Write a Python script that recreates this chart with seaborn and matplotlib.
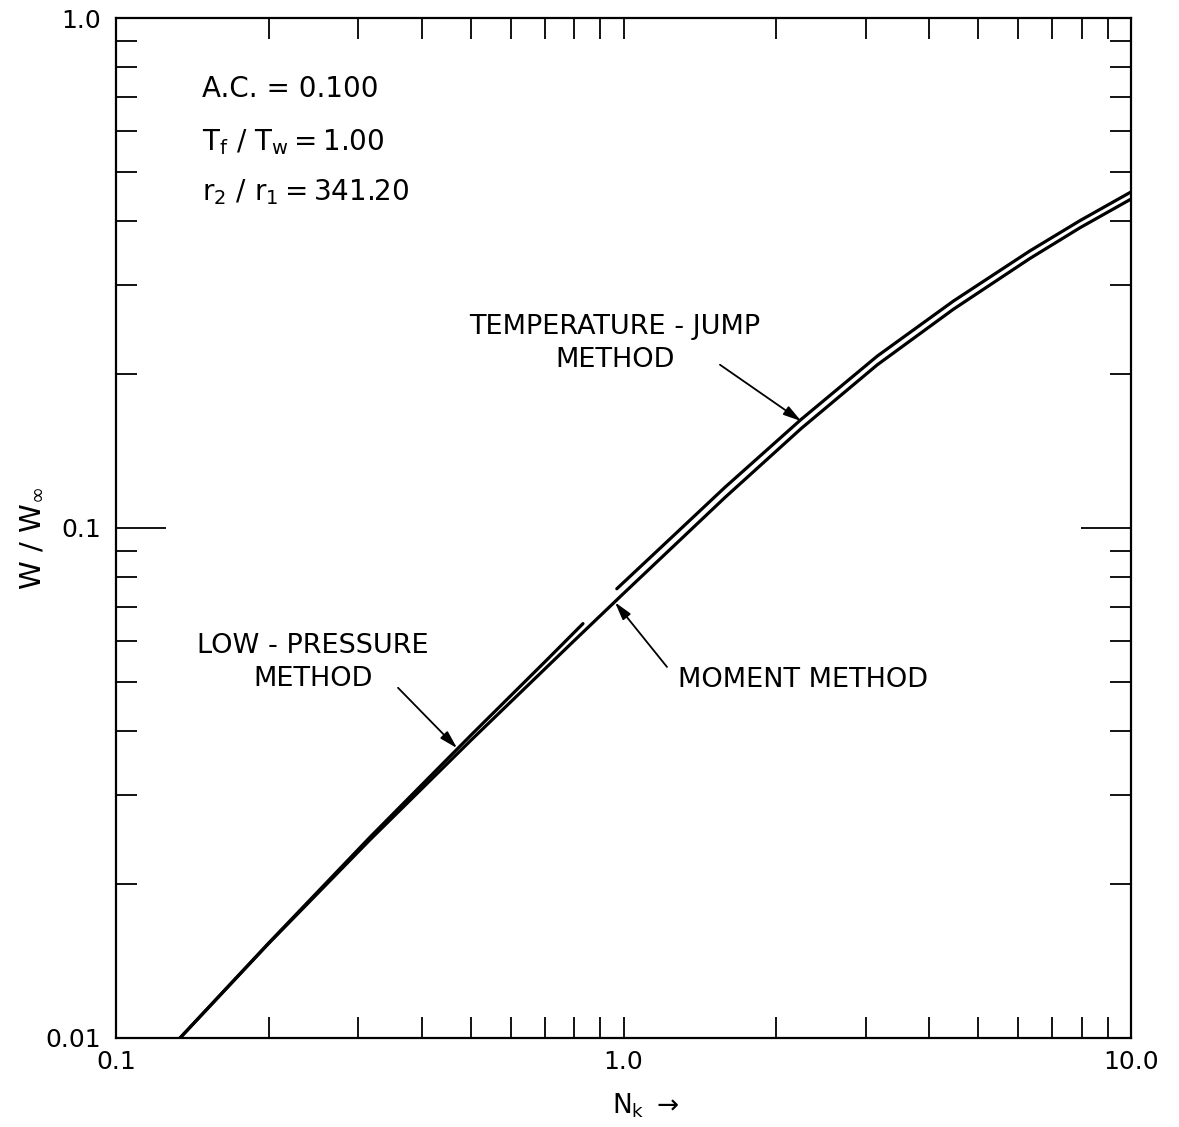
import numpy as np
import pandas as pd
import matplotlib
matplotlib.use("Agg")
import matplotlib.pyplot as plt
import seaborn as sns
from matplotlib.ticker import FixedLocator, FixedFormatter, LogLocator, NullFormatter

# ---------------- data ----------------
moment_nk = [0.1337, 0.1995, 0.3162, 0.5012, 0.7943, 1.0, 1.585, 2.239, 3.162, 4.467, 6.310, 7.943, 10.0]
moment_w = [0.0100, 0.01529, 0.02444, 0.0384, 0.05976, 0.0744, 0.1148, 0.1567, 0.2089, 0.2685, 0.3373, 0.3882, 0.4416]

tjump_nk = [0.97, 1.26, 1.585, 2.239, 3.162, 4.467, 6.310, 7.943, 10.0]
tjump_w = [0.0760, 0.0970, 0.1202, 0.1633, 0.2173, 0.2786, 0.3491, 0.4009, 0.4560]

lowp_nk = [0.1337, 0.1995, 0.3162, 0.5012, 0.7079, 0.832]
lowp_w = [0.0100, 0.01532, 0.02473, 0.0393, 0.05526, 0.06494]

x_ticks = [0.1, 1.0, 10.0]
x_tick_labels = ["0.1", "1.0", "10.0"]
y_ticks = [0.01, 0.1, 1.0]
y_tick_labels = ["0.01", "0.1", "1.0"]

param_lines = ["A.C. = 0.100",
               r"$\mathregular{T_f\ /\ T_w = 1.00}$",
               r"$\mathregular{r_2\ /\ r_1 = 341.20}$"]

# ---------------- figure ----------------
sns.set_theme(style="ticks")
plt.rcParams["font.family"] = ["DejaVu Sans"]
plt.rcParams["mathtext.fontset"] = "dejavusans"

fig = plt.figure(figsize=(11.79, 11.27), dpi=100)
ax = fig.add_axes([0.0984, 0.0790, 0.8609, 0.9050])

df_m = pd.DataFrame({"Nk": moment_nk, "W": moment_w})
df_t = pd.DataFrame({"Nk": tjump_nk, "W": tjump_w})
df_l = pd.DataFrame({"Nk": lowp_nk, "W": lowp_w})
for df in (df_m, df_t, df_l):
    sns.lineplot(data=df, x="Nk", y="W", ax=ax, color="black", linewidth=2.3,
                 estimator=None, sort=False)

ax.set_xscale("log")
ax.set_yscale("log")
ax.set_xlim(0.1, 10)
ax.set_ylim(0.01, 1.0)

ax.xaxis.set_major_locator(FixedLocator(x_ticks))
ax.xaxis.set_major_formatter(FixedFormatter(x_tick_labels))
ax.yaxis.set_major_locator(FixedLocator(y_ticks))
ax.yaxis.set_major_formatter(FixedFormatter(y_tick_labels))
ax.xaxis.set_minor_locator(LogLocator(base=10, subs=np.arange(2, 10)))
ax.yaxis.set_minor_locator(LogLocator(base=10, subs=np.arange(2, 10)))
ax.xaxis.set_minor_formatter(NullFormatter())
ax.yaxis.set_minor_formatter(NullFormatter())

ax.tick_params(which="both", direction="in", top=True, right=True,
               width=1.3, color="black", labelcolor="black", labelsize=18)
ax.tick_params(which="minor", length=15)
ax.tick_params(axis="x", which="major", length=15, pad=9)
ax.tick_params(axis="y", which="major", length=36, pad=11)
for s in ax.spines.values():
    s.set_linewidth(1.6)
    s.set_color("black")

ax.set_xlabel(r"$\mathregular{N_k}$ $\rightarrow$", fontsize=19, color="black")
ax.xaxis.set_label_coords(0.522, -0.052)
ax.set_ylabel(r"$\mathregular{W\ /\ W_{\infty}}$", fontsize=21, color="black")
ax.yaxis.set_label_coords(-0.070, 0.49)

# parameter block
for txt, yv in zip(param_lines, [0.700, 0.551, 0.440]):
    ax.text(0.1477, yv, txt, fontsize=20, ha="left", va="baseline", color="black")

# labels and arrows
arrow_kw = dict(arrowstyle="-|>,head_length=0.9,head_width=0.25", color="black", lw=1.3,
                shrinkA=0, shrinkB=0)
ax.text(0.962, 0.2305, "TEMPERATURE - JUMP\nMETHOD", fontsize=19.5, ha="center",
        va="center", multialignment="center", linespacing=1.35, color="black")
ax.annotate("", xy=(2.24, 0.162), xytext=(1.549, 0.209), arrowprops=arrow_kw)

ax.text(0.2443, 0.0544, "LOW - PRESSURE\nMETHOD", fontsize=19.5, ha="center",
        va="center", multialignment="center", linespacing=1.35, color="black")
ax.annotate("", xy=(0.47, 0.0370), xytext=(0.3595, 0.0486), arrowprops=arrow_kw)

ax.text(1.28, 0.0504, "MOMENT METHOD", fontsize=19.5, ha="left", va="center", color="black")
ax.annotate("", xy=(0.962, 0.0715), xytext=(1.218, 0.0534), arrowprops=arrow_kw)

fig.savefig("out.png", dpi=100)
